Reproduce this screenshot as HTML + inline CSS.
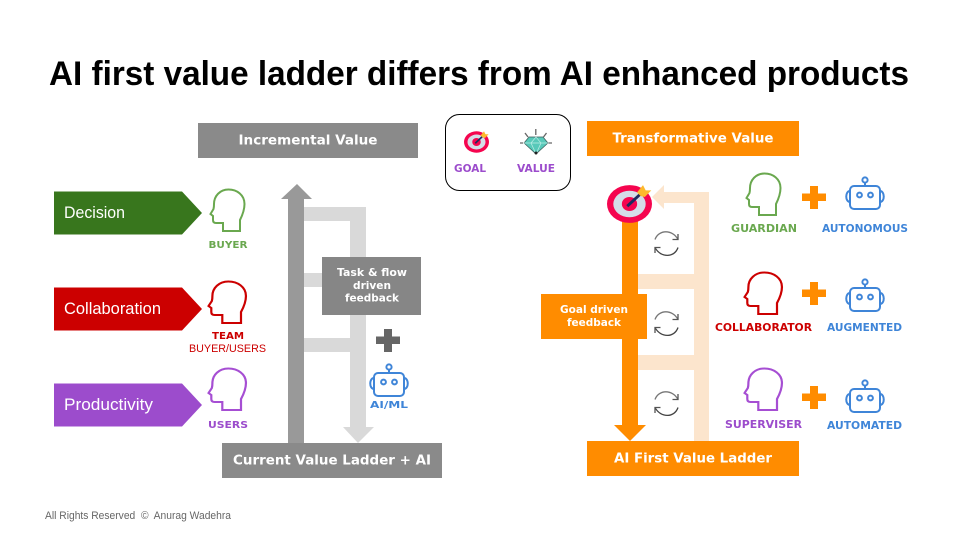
<!DOCTYPE html>
<html><head><meta charset="utf-8"><style>
html,body{margin:0;padding:0;background:#fff}
svg{display:block}
.v{font-family:"DejaVu Sans",sans-serif;font-weight:700}
.l{font-family:"Liberation Sans",sans-serif}
</style></head><body>
<svg width="960" height="540" viewBox="0 0 960 540" xmlns="http://www.w3.org/2000/svg">
<defs>
<path id="h" fill="none" stroke-width="2" d="M13 42H30V31C32 27 34.500 21 34.500 15C34.500 6 27 .5 18.500 .5C10 .5 4 7 4 15C4 17 4 18 3.500 20L.5 25L3 27V31C3 33 4 34 6 34H13Z"/>
<g id="r" fill="none" stroke="#3f85d8" stroke-width="2">
<rect x="-15" y="0" width="30" height="23" rx="4"/>
<path d="M-15 5C-20 5-20 16-15 16M15 5C20 5 20 16 15 16M0 0V-3.500"/>
<circle cx="0" cy="-6" r="2.600"/><circle cx="-5.500" cy="9" r="2.400"/><circle cx="5.500" cy="9" r="2.400"/>
</g>
<g id="c" fill="none" stroke="#555" stroke-width="1.300">
<path d="M-11.500-4C-8-14 6-14.500 11.500-4" stroke="#777"/><path d="M11.500-9.500V-4H6"/>
<path d="M11.500 4C8 14.500-6 14.500-11.500 4" stroke="#444"/><path d="M-11.500 9.500V4H-6"/>
</g>
<g id="t">
<ellipse cx="0" cy="0" rx="1" ry=".86" fill="#f5054f"/>
<ellipse cx="0" cy="0" rx=".72" ry=".6" fill="#d5dde8"/>
<ellipse cx="0" cy="0" rx=".34" ry=".32" fill="#f5054f"/>
<path d="M-.1 .1L.45-.42" stroke="#1d2b5e" stroke-width=".13"/>
<path d="M.33-.52L.6-.86L.72-.62L.97-.62L.68-.32L.5-.36Z" fill="#fdb92c"/>
</g>
</defs>

<text x="49" y="85" class="l" font-size="34" font-weight="700" fill="#000" textLength="860" lengthAdjust="spacingAndGlyphs">AI first value ladder differs from AI enhanced products</text>

<!-- left chevrons -->
<path d="M54 191.500H182L202 213L182 234.500H54Z" fill="#38761d"/>
<path d="M54 287.500H182L202 309L182 330.500H54Z" fill="#cc0000"/>
<path d="M54 383.500H182L202 405L182 426.500H54Z" fill="#9c4ccc"/>
<g class="l" font-size="17" fill="#fff">
<text x="64" y="218" textLength="61" lengthAdjust="spacingAndGlyphs">Decision</text>
<text x="64" y="314" textLength="97" lengthAdjust="spacingAndGlyphs">Collaboration</text>
<text x="64" y="410" textLength="89" lengthAdjust="spacingAndGlyphs">Productivity</text>
</g>
<use href="#h" x="210" y="189" stroke="#6aa84f"/>
<use href="#h" transform="translate(208 281) scale(1.1 1)" stroke="#cc0000"/>
<use href="#h" transform="translate(208 368) scale(1.1 1)" stroke="#a64ed3"/>
<g class="v" font-size="10" text-anchor="middle">
<text x="228" y="248" fill="#6aa84f" textLength="39" lengthAdjust="spacingAndGlyphs">BUYER</text>
<text x="228" y="339" fill="#cc0000" textLength="32" lengthAdjust="spacingAndGlyphs">TEAM</text>
<text x="228" y="428" fill="#9c4ccc" textLength="40" lengthAdjust="spacingAndGlyphs">USERS</text>
</g>
<text x="189" y="352" class="l" font-size="11" fill="#cc0000" textLength="77" lengthAdjust="spacingAndGlyphs">BUYER/USERS</text>

<!-- left ladder -->
<path d="M304 207H366V427H374L358 443L343 427H350V221H304ZM304 273H350V287H304ZM304 338H350V352H304Z" fill="#d9d9d9"/>
<path d="M288 443V199H281L297 184L312 199H304V443Z" fill="#999"/>
<rect x="198" y="123" width="220" height="35" fill="#8a8a8a"/>
<rect x="222" y="443" width="220" height="35" fill="#8a8a8a"/>
<rect x="322" y="257" width="99" height="58" fill="#868686"/>
<g class="v" fill="#fff" text-anchor="middle">
<text x="308" y="144.500" font-size="13" textLength="139" lengthAdjust="spacingAndGlyphs">Incremental Value</text>
<text x="332" y="464.500" font-size="13" textLength="198" lengthAdjust="spacingAndGlyphs">Current Value Ladder + AI</text>
<text x="372" y="276" font-size="10.500" textLength="70" lengthAdjust="spacingAndGlyphs">Task &amp; flow</text>
<text x="372" y="289" font-size="10.500" textLength="38" lengthAdjust="spacingAndGlyphs">driven</text>
<text x="372" y="301.500" font-size="10.500" textLength="54" lengthAdjust="spacingAndGlyphs">feedback</text>
</g>
<path d="M384 329H392V336.500H400V344H392V352H384V344H376V336.500H384Z" fill="#666"/>
<use href="#r" x="389" y="373"/>
<text x="389" y="408" class="v" font-size="10" fill="#3f85d8" text-anchor="middle" textLength="38" lengthAdjust="spacingAndGlyphs">AI/ML</text>

<!-- legend -->
<rect x="445.500" y="114.500" width="125" height="76" rx="14" fill="#fff" stroke="#000" stroke-width="1"/>
<use href="#t" transform="translate(476.500 142) scale(12.500)"/>
<g stroke="#666" stroke-width="1.300" fill="none"><path d="M535.800 129V135M525 133L528 137M546.500 133L543.500 137M520 143H523M548.500 143H552"/></g>
<path d="M529 137H543L548 143L536 154L524 143Z" fill="#58c9b9" stroke="#3a5a58" stroke-width=".7"/>
<path d="M524 143H548M531 143L536 154L541 143L536 137L531 143" fill="none" stroke="#bdeee7" stroke-width=".7"/>
<circle cx="536" cy="153" r="1.500" fill="#222"/>
<g class="v" font-size="10.500" fill="#9c4ccc">
<text x="454" y="172" textLength="32" lengthAdjust="spacingAndGlyphs">GOAL</text>
<text x="517" y="172" textLength="38" lengthAdjust="spacingAndGlyphs">VALUE</text>
</g>

<!-- right ladder -->
<path d="M709 192V441H694V370H638V355H694V289H638V274H694V203H664V209L652 197L664 185V192Z" fill="#fce5cd"/>
<path d="M622 215H638V425H646L630 441L614 425H622Z" fill="#ff8c00"/>
<use href="#t" transform="translate(629.500 204) scale(22.500 22)"/>
<rect x="587" y="121" width="212" height="35" fill="#ff8c00"/>
<rect x="587" y="441" width="212" height="35" fill="#ff8c00"/>
<rect x="541" y="294" width="106" height="45" fill="#ff8c00"/>
<g class="v" fill="#fff" text-anchor="middle">
<text x="693" y="142.500" font-size="13" textLength="161" lengthAdjust="spacingAndGlyphs">Transformative Value</text>
<text x="693" y="462.500" font-size="13" textLength="158" lengthAdjust="spacingAndGlyphs">AI First Value Ladder</text>
<text x="594" y="313" font-size="10.500" textLength="68" lengthAdjust="spacingAndGlyphs">Goal driven</text>
<text x="594" y="326" font-size="10.500" textLength="54" lengthAdjust="spacingAndGlyphs">feedback</text>
</g>
<use href="#c" x="666.500" y="243.500"/>
<use href="#c" x="666.500" y="323.500"/>
<use href="#c" x="666.500" y="403.500"/>

<use href="#h" x="746" y="173" stroke="#6aa84f"/>
<use href="#h" transform="translate(744 272) scale(1.1 1)" stroke="#cc0000"/>
<use href="#h" transform="translate(744 368) scale(1.1 1)" stroke="#a64ed3"/>
<path d="M810 186H818V193.500H826V201H818V209H810V201H802V193.500H810Z" fill="#ff8c00"/>
<path d="M810 282H818V289.500H826V297H818V305H810V297H802V289.500H810Z" fill="#ff8c00"/>
<path d="M810 386H818V393.500H826V401H818V409H810V401H802V393.500H810Z" fill="#ff8c00"/>
<use href="#r" x="865" y="186"/>
<use href="#r" x="865" y="288"/>
<use href="#r" x="865" y="389"/>
<g class="v" font-size="10.500">
<text x="731" y="232" fill="#6aa84f" textLength="66" lengthAdjust="spacingAndGlyphs">GUARDIAN</text>
<text x="822" y="232" fill="#3f85d8" textLength="86" lengthAdjust="spacingAndGlyphs">AUTONOMOUS</text>
<text x="715" y="331" fill="#cc0000" textLength="97" lengthAdjust="spacingAndGlyphs">COLLABORATOR</text>
<text x="827" y="331" fill="#3f85d8" textLength="75" lengthAdjust="spacingAndGlyphs">AUGMENTED</text>
<text x="725" y="428" fill="#9c4ccc" textLength="77" lengthAdjust="spacingAndGlyphs">SUPERVISER</text>
<text x="827" y="429" fill="#3f85d8" textLength="75" lengthAdjust="spacingAndGlyphs">AUTOMATED</text>
</g>

<text x="45" y="519" class="l" font-size="11" fill="#666" style="white-space:pre" textLength="186" lengthAdjust="spacingAndGlyphs">All Rights Reserved  ©  Anurag Wadehra</text>
</svg>
</body></html>
